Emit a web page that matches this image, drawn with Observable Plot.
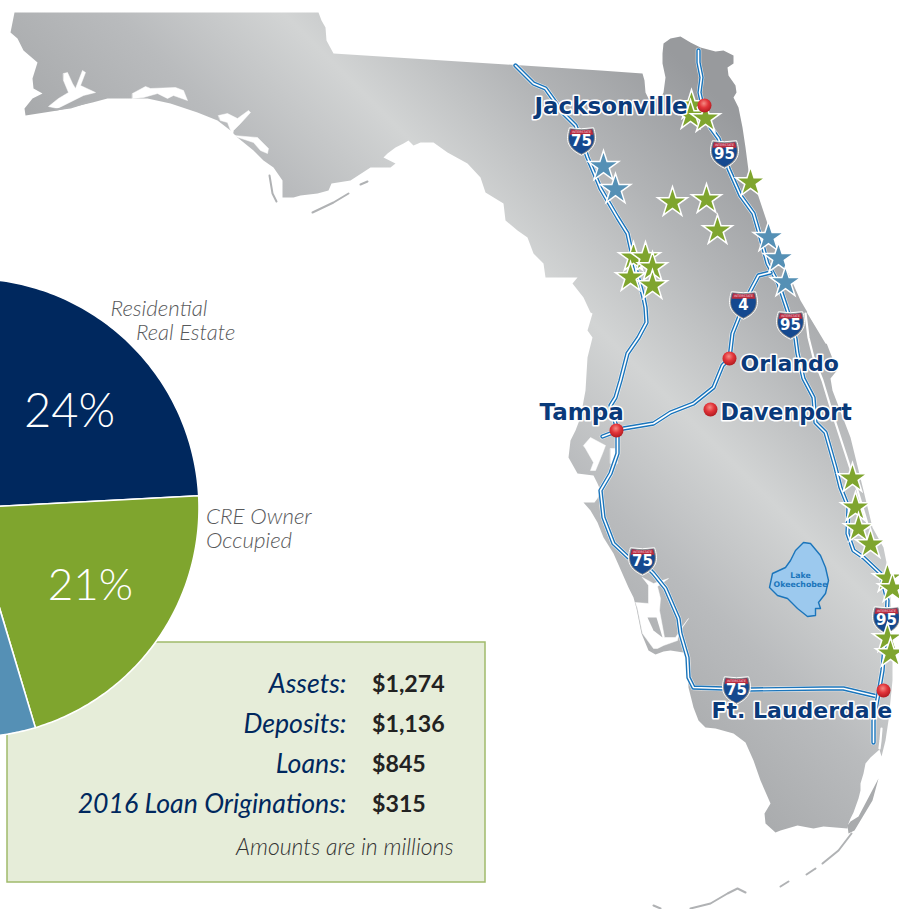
<!DOCTYPE html>
<html><head><meta charset="utf-8">
<script src="https://cdn.jsdelivr.net/npm/d3@7"></script>
<script src="https://cdn.jsdelivr.net/npm/@observablehq/plot@0.6"></script>
<style>html,body{margin:0;padding:0;background:#fff}svg{display:block}</style>
</head><body><div id="chart"></div>
<script>
const W = 899, H = 909;
// ---- Portfolio pie (shares, %), clockwise. Last two lie off the page.
const pieShares = [24, 21.2, 12, 42.8];
const pieColors = ["#00285e", "#7fa52e", "#5590b5", "#888888"];
const pieCenter = [-31, 507.3], pieRadius = 229.5;
// ---- Summary box
const statLabels = ["Assets:", "Deposits:", "Loans:", "2016 Loan Originations:"];
const statValues = ["$1,274", "$1,136", "$845", "$315"];
const statY = [684, 724, 764, 804];
// ---- Map: state outline
const florida = [[14,12],[318,12],[321,20],[325,27],[326,40],[333,53],[600,70],[642,73],[644,80],[645,92],[648,98],[660,98],[663,92],[665,77],[662,63],[662,53],[663,43],[670,38],[680,36],[690,42],[700,47],[715,51],[723,50],[733,55],[733,63],[727,67],[728,75],[735,85],[736,92],[733,97],[738,107],[742,127],[745,147],[748,170],[757,193],[767,223],[777,247],[788,273],[800,300],[813,322],[825,340],[832,358],[838,368],[830,378],[832,390],[850,437],[863,490],[872,527],[883,547],[887,567],[890,597],[892,663],[892,680],[888,720],[885,740],[881,756],[879,749],[870,757],[865,763],[863,773],[860,783],[860,790],[858,798],[853,812],[850,818],[848,823],[847,828],[823,826],[813,828],[797,825],[780,830],[775,832],[765,823],[764,813],[770,803],[760,780],[753,760],[745,742],[733,733],[715,728],[705,727],[698,720],[693,707],[688,687],[687,663],[683,652],[670,650],[663,651],[655,654],[648,650],[641,633],[636,608],[633,597],[628,587],[613,553],[603,537],[597,522],[590,510],[583,502],[594,502],[597,498],[600,490],[597,483],[593,475],[577,473],[568,457],[570,440],[575,430],[580,417],[585,390],[587,357],[592,337],[587,330],[592,313],[590,312],[583,297],[572,283],[577,277],[545,277],[543,263],[533,253],[527,237],[517,230],[505,220],[503,203],[485,192],[480,177],[467,163],[447,152],[433,142],[420,142],[413,145],[408,140],[403,143],[395,147],[387,153],[383,157],[395,163],[390,167],[370,167],[350,180],[331,183],[328,190],[317,193],[300,195],[293,197],[282,197],[282,180],[273,167],[263,160],[253,150],[237,137],[230,130],[217,120],[197,112],[170,103],[147,98],[130,98],[107,98],[92,102],[57,110],[25,115],[24,108],[32,98],[42,93],[33,88],[32,78],[37,62],[23,50],[17,38],[10,32]];
// white inlets and bays
const inlets = [
 [[63,73],[67,72],[72,83],[75,88],[82,70],[85,72],[80,85],[95,92],[83,95],[57,108],[48,106],[58,98],[68,92],[63,80]],
 [[132,93],[145,86],[150,88],[175,87],[183,90],[187,100],[173,95],[167,98],[157,93],[143,97],[132,98]],
 [[218,115],[227,113],[237,118],[248,110],[250,112],[240,123],[233,130],[232,135],[227,122],[220,120]],
 [[233,135],[257,137],[268,148],[267,153],[260,150],[253,142],[238,137]],
 [[269,172],[278,177],[279,192],[276,198],[273,190]],
 [[583,445],[590,437],[605,445],[602,453],[595,470],[590,470],[593,462],[585,448]],
 [[610,448],[615,448],[617,463],[610,463]],
 [[642,577],[653,583],[668,578],[657,586],[660,598],[659,610],[664,637],[675,637],[688,618],[679,630],[677,640],[663,645],[657,648],[653,648],[642,633],[637,608],[635,602],[648,603],[648,585]]
];
const charlotteIsland = [[647,617],[656,617],[662,637],[653,630]];
// white lagoons, east coast
const lagoon1 = [[805,313],[808,337],[813,357],[822,380],[832,413],[845,453],[857,490],[868,527]];
const lagoon2 = [[808,312],[826,342]];
const lagoon3 = [[881,728],[880,740],[879,748]];
// thin grey barrier islands
const barriers = [
 [[55,109],[70,107],[92,100]], [[269,175],[272,193],[276,201]],
 [[312,212],[333,202],[348,193]], [[360,184],[367,181]],
 [[851,833],[838,850],[822,863]], [[815,868],[806,874]], [[788,881],[780,886]],
 [[690,908],[710,903],[727,893],[737,888],[745,892]], [[653,905],[660,908]]
];
const keyLargo = [[878,778],[872,800],[860,820],[854,830],[848,833],[847,825],[850,821],[858,816],[868,797]];
// interstates
const i75 = [[515,65],[527,77],[533,83],[545,88],[563,113],[575,125],[581,140],[587,157],[598,183],[600,188],[617,217],[627,233],[633,260],[643,297],[645,307],[646,322],[638,337],[627,353],[620,380],[615,397],[610,405],[617,430],[617,453],[610,473],[600,490],[603,517],[613,543],[628,557],[642,562],[653,573],[665,588],[678,618],[680,633],[687,657],[688,677],[693,687],[723,688],[750,689],[823,688],[843,688],[877,696]];
const i95 = [[698,50],[698,62],[701,77],[699,92],[703,110],[710,127],[718,138],[724,154],[728,168],[740,195],[753,213],[760,237],[767,263],[778,283],[787,310],[795,338],[797,353],[803,378],[813,397],[815,422],[825,432],[835,467],[840,487],[848,507],[847,533],[853,550],[863,557],[880,573],[887,600],[886,620],[882,670],[878,693],[873,720],[873,742]];
const i4 = [[602,436],[623,428],[653,423],[670,412],[693,403],[713,387],[722,365],[729,358],[732,333],[738,318],[743,305],[750,290],[758,275],[770,272]];
// lake
const lake = [[803,542],[810,543],[820,555],[825,567],[828,580],[825,593],[818,602],[820,608],[815,608],[815,615],[807,616],[797,608],[787,598],[777,595],[769,587],[772,573],[785,567],[790,560],[795,550]];
// highway shields
const shieldX = [581,724,743,790,642,736,886];
const shieldY = [141,154,305,325,561,690,620];
const shieldText = ["75","95","4","95","75","75","95"];
// stars
const blueStarX = [603,615,768,778,785], blueStarY = [166,189,237,258,282];
const greenStarX = [691,690,705,750,672,706,717,633,645,630,652,652,852,855,858,870,887,892,887,890];
const greenStarY = [105,115,118,182,202,199,230,257,257,277,267,285,478,507,528,544,578,588,638,653];
// cities
const cityNames = ["Jacksonville","Orlando","Tampa","Davenport","Ft. Lauderdale"];
const cityX = [534,740,539,720,711], cityY = [106,363,412,412,710];
const citySizes = [23,22,23,22.2,22];
const dotX = [704,729,616,710,883], dotY = [105,358,430,409,690];

// pie slices as polygons
const pieArcs = d3.pie().sort(null).startAngle(0.6*Math.PI/180).endAngle(2*Math.PI+0.6*Math.PI/180)(pieShares);
const sliceOutline = a => {
  const pts = [pieCenter];
  for (let t = 0; t <= 90; ++t) {
    const ang = a.startAngle + (a.endAngle - a.startAngle) * t / 90;
    pts.push([pieCenter[0] + pieRadius * Math.sin(ang), pieCenter[1] - pieRadius * Math.cos(ang)]);
  }
  return pts;
};
const px = d => d[0], py = d => d[1];
const poly = (pts, o) => Plot.line(pts, {x: px, y: py, curve: "linear-closed", ...o});
const path = (pts, o) => Plot.line(pts, {x: px, y: py, curve: "linear", strokeLinejoin: "round", strokeLinecap:"round", ...o});
const road = pts => [
  path(pts, {stroke: "#ffffff", strokeWidth: 5.6, strokeOpacity: .75}),
  path(pts, {stroke: "#1b75bb", strokeWidth: 4.4}),
  path(pts, {stroke: "#ffffff", strokeWidth: 1.6})
];
const shieldBody = {draw(c, s) {
  const k = Math.sqrt(s) / 2;
  c.moveTo(-.88*k, -1*k); c.quadraticCurveTo(0, -.86*k, .88*k, -1*k);
  c.bezierCurveTo(1.1*k, -.3*k, 1.2*k, .45*k, 0, 1*k);
  c.bezierCurveTo(-1.2*k, .45*k, -1.1*k, -.3*k, -.88*k, -1*k); c.closePath();
}};
const shieldCap = {draw(c, s) {
  const k = Math.sqrt(s) / 2;
  c.moveTo(-.86*k, -1*k); c.quadraticCurveTo(0, -.86*k, .86*k, -1*k);
  c.lineTo(.97*k, -.56*k); c.lineTo(-.97*k, -.56*k); c.closePath();
}};
const star = (xs, ys, fill, r) => Plot.dot(xs, {x: xs, y: ys, symbol: "star", r, fill, stroke: "#ffffff", strokeWidth: 1.5});
const txt = (texts, xs, ys, o) => Plot.text(texts, {text: d => d, x: xs, y: ys, ...o});

const defs = () => d3.create("svg:defs").html(`
  <linearGradient id="fl" gradientUnits="userSpaceOnUse" x1="400" y1="500" x2="760" y2="140">
    <stop offset="0" stop-color="#a6a8aa"/><stop offset=".28" stop-color="#b9bbbd"/>
    <stop offset=".514" stop-color="#d2d4d4"/><stop offset=".76" stop-color="#b2b4b6"/>
    <stop offset="1" stop-color="#989a9d"/>
  </linearGradient>
  <radialGradient id="ball" cx=".45" cy=".35" r=".7">
    <stop offset="0" stop-color="#f58b84"/><stop offset=".45" stop-color="#e2353a"/><stop offset="1" stop-color="#a9161c"/>
  </radialGradient>`).node();

const sans = "Lato, 'Open Sans', sans-serif", bold = "'DejaVu Sans', Verdana, sans-serif";
const note = {textAnchor: "start", fontFamily: sans, fontStyle: "italic", fontWeight: 300, fontSize: 22.3, fill: "#58595b"};
const chart = Plot.plot({
  width: W, height: H, margin: 0,
  x: {domain: [0, W], range: [0, W], axis: null},
  y: {domain: [0, H], range: [0, H], axis: null},
  style: {background: "#fff"},
  marks: [
    defs,
    poly(florida, {fill: "url(#fl)", stroke: "none"}),
    inlets.map(p => poly(p, {fill: "#fff", stroke: "#fff", strokeWidth: .5})),
    poly(charlotteIsland, {fill: "url(#fl)"}),
    poly(keyLargo, {fill: "#a9abad"}),
    [lagoon1, lagoon3].map(p => path(p, {stroke: "#fff", strokeWidth: 2.2})),
    path(lagoon2, {stroke: "#fff", strokeWidth: 2.6}),
    barriers.map(p => path(p, {stroke: "#b0b2b4", strokeWidth: 2})),
    poly(lake, {fill: "#9cc9ee", stroke: "#1b75bb", strokeWidth: 1.4}),
    txt(["Lake","Okeechobee"], [800,800], [575,584], {fontFamily: bold, fontWeight: 700, fontSize: 7.8, fill: "#1b75bb"}),
    road(i75), road(i95), road(i4),
    // shields
    Plot.dot(shieldX, {x: shieldX, y: shieldY, symbol: shieldBody, r: 15.5, fill: "#8a8c8e", stroke: "#fff", strokeWidth: 1}),
    Plot.dot(shieldX, {x: shieldX, y: shieldY, symbol: shieldBody, r: 13.8, fill: "#15498f"}),
    Plot.dot(shieldX, {x: shieldX, y: shieldY, symbol: shieldCap, r: 13.8, fill: "#b92d3f"}),
    txt(shieldText.map(() => "INTERSTATE"), shieldX, shieldY.map(y => y - 9.6), {fontFamily: bold, fontSize: 3.2, fill: "#f3dde0"}),
    txt(shieldText, shieldX, shieldY, {fontFamily: bold, fontWeight: 700, fontSize: 15, fill: "#fff"}),
    // stars
    star(blueStarX, blueStarY, "#5590b5", 9.6),
    star(greenStarX, greenStarY, "#7fa52e", 9.4),
    // cities
    Plot.dot(dotX, {x: dotX, y: dotY, r: 7, fill: "url(#ball)"}),
    txt(cityNames, cityX, cityY, {textAnchor: "start", fontFamily: bold, fontWeight: 700, fontSize: (d, i) => citySizes[i], fill: "#0a3a7a", stroke: "#fff", strokeWidth: 3.2}),
    // summary box
    Plot.rect([0], {x1: [7], x2: [485], y1: [642], y2: [882], fill: "#e6edd9", stroke: "#a0ba6b", strokeWidth: 1.5}),
    // pie
    pieArcs.map((a, i) => poly(sliceOutline(a), {fill: pieColors[i], stroke: "#fff", strokeWidth: 1.6})),
    txt(["24%"], [69], [411.5], {fontFamily: sans, fontWeight: 300, fontSize: 47, fill: "#fff"}),
    txt(["21%"], [90], [585.5], {fontFamily: sans, fontWeight: 300, fontSize: 44, fill: "#fff"}),
    txt(["Residential"], [110], [308], note),
    txt(["Real Estate"], [135.5], [332], {...note, fontSize: 22}),
    txt(["CRE Owner\nOccupied"], [205.5], [528], {...note, lineHeight: 1.076}),
    txt(statLabels, statLabels.map(() => 346), statY, {textAnchor: "end", fontFamily: sans, fontStyle: "italic", fontSize: 26.7, fill: "#00285e"}),
    txt(statValues, statValues.map(() => 371.5), statY, {textAnchor: "start", fontFamily: sans, fontWeight: 700, fontSize: 23.2, fill: "#222"}),
    txt(["Amounts are in millions"], [453], [847], {textAnchor: "end", fontFamily: sans, fontStyle: "italic", fontWeight: 300, fontSize: 23, fill: "#333"})
  ]
});
document.getElementById("chart").append(chart);
</script></body></html>
